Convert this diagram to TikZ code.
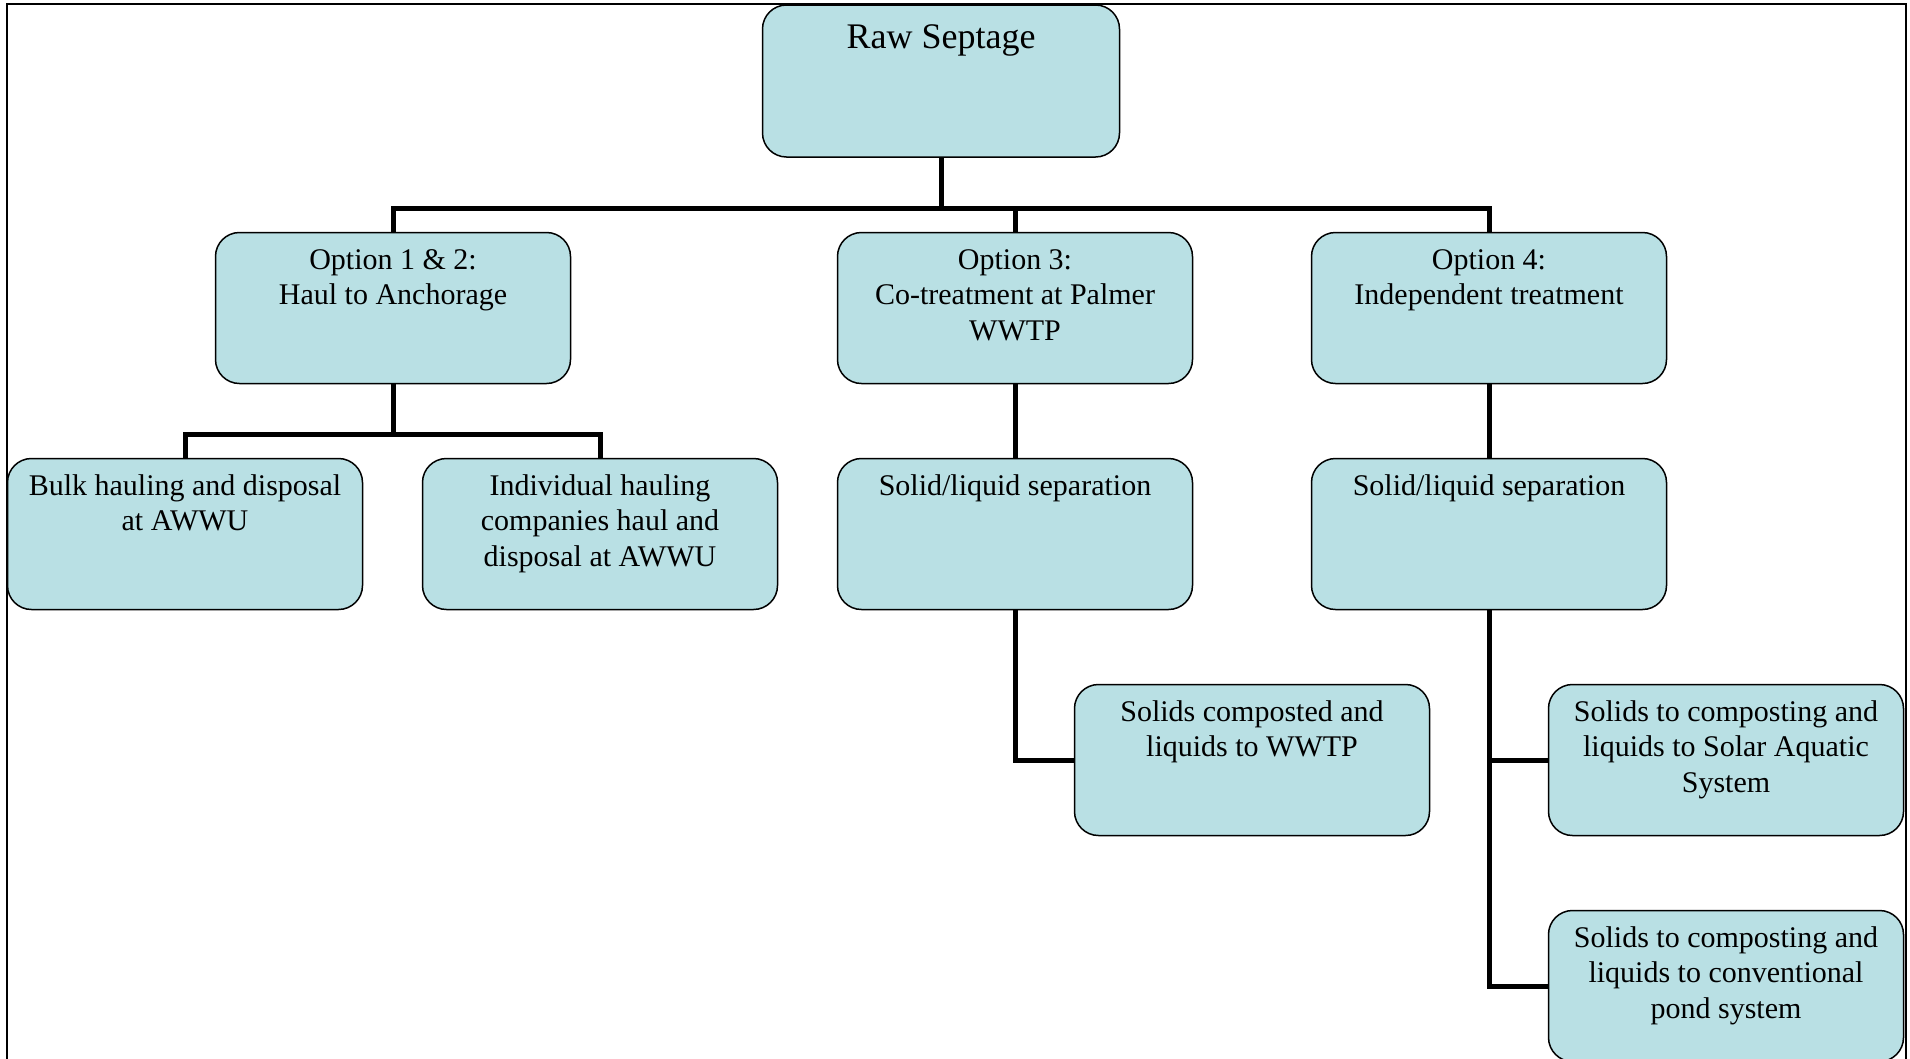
\documentclass[tikz,border=0pt]{standalone}
\usepackage{fontspec}
\setmainfont{Liberation Serif}
\usetikzlibrary{backgrounds}
\definecolor{boxfill}{RGB}{185,224,228}
\tikzset{
  box/.style={draw=black, line width=1.5pt, fill=boxfill, rounded corners=24pt,
    minimum width=355pt, minimum height=151pt, inner sep=0pt},
  boxtext/.style={anchor=north, inner sep=0pt, align=center,
    font=\fontsize{30}{35.5}\selectfont},
  bigtext/.style={anchor=north, inner sep=0pt, align=center,
    font=\fontsize{36}{43}\selectfont},
  conn/.style={line width=5pt, line join=miter, draw=black},
  frame/.style={line width=2pt, draw=black}
}
\begin{document}
\begin{tikzpicture}[x=1pt, y=-1pt]
\useasboundingbox (0,0) rectangle (1910,1058);
\clip (0,0) rectangle (1910,1058);

% boxes
\node[box, minimum width=357pt, minimum height=152pt] (raw) at (941,81) {};
\node[box] (o12) at (393,308) {};
\node[box] (o3) at (1015,308) {};
\node[box] (o4) at (1489,308) {};
\node[box] (bulk) at (185,534) {};
\node[box] (indiv) at (600,534) {};
\node[box] (sep3) at (1015,534) {};
\node[box] (sep4) at (1489,534) {};
\node[box] (wwtp) at (1252,760) {};
\node[box] (sas) at (1726,760) {};
\node[box] (pond) at (1726,986) {};

\coordinate (j0) at (941,208);
\coordinate (j1) at (393,434);

% frame and connectors behind the boxes
\begin{scope}[on background layer]
\fill[white] (0,0) rectangle (1910,1058);
\draw[frame] (7,4) rectangle (1906,1080);
\draw[conn] (o12.north) |- (j0) -| (o4.north);
\draw[conn, line cap=rect] (raw.south) -- (j0);
\draw[conn] (o3.north) -- (o3.north |- j0);
\draw[conn] (o12.south) -- (j1);
\draw[conn] (bulk.north) |- (j1) -| (indiv.north);
\draw[conn] (o3.south) -- (sep3.north);
\draw[conn] (sep3.south) |- (wwtp.west);
\draw[conn] (o4.south) -- (sep4.north);
\draw[conn] (sep4.south) |- (sas.west);
\draw[conn] (sep4.south) |- (pond.west);
\end{scope}

% texts
\node[bigtext] (raw-t) at ([yshift=-13.9pt]raw.north) {\strut Raw Septage};
\node[boxtext] (o12-t) at ([yshift=-12.2pt]o12.north) {\strut Option 1 \& 2:\\Haul to Anchorage};
\node[boxtext] (o3-t) at ([yshift=-12.2pt]o3.north) {\strut Option 3:\\Co-treatment at Palmer\\WWTP};
\node[boxtext] (o4-t) at ([yshift=-12.2pt]o4.north) {\strut Option 4:\\Independent treatment};
\node[boxtext] (bulk-t) at ([yshift=-12.2pt]bulk.north) {\strut Bulk hauling and disposal\\at AWWU};
\node[boxtext] (indiv-t) at ([yshift=-12.2pt]indiv.north) {\strut Individual hauling\\companies haul and\\disposal at AWWU};
\node[boxtext] (sep3-t) at ([yshift=-12.2pt]sep3.north) {\strut Solid/liquid separation};
\node[boxtext] (sep4-t) at ([yshift=-12.2pt]sep4.north) {\strut Solid/liquid separation};
\node[boxtext] (wwtp-t) at ([yshift=-12.2pt]wwtp.north) {\strut Solids composted and\\liquids to WWTP};
\node[boxtext] (sas-t) at ([yshift=-12.2pt]sas.north) {\strut Solids to composting and\\liquids to Solar Aquatic\\System};
\node[boxtext] (pond-t) at ([yshift=-12.2pt]pond.north) {\strut Solids to composting and\\liquids to conventional\\pond system};
\end{tikzpicture}
\end{document}
